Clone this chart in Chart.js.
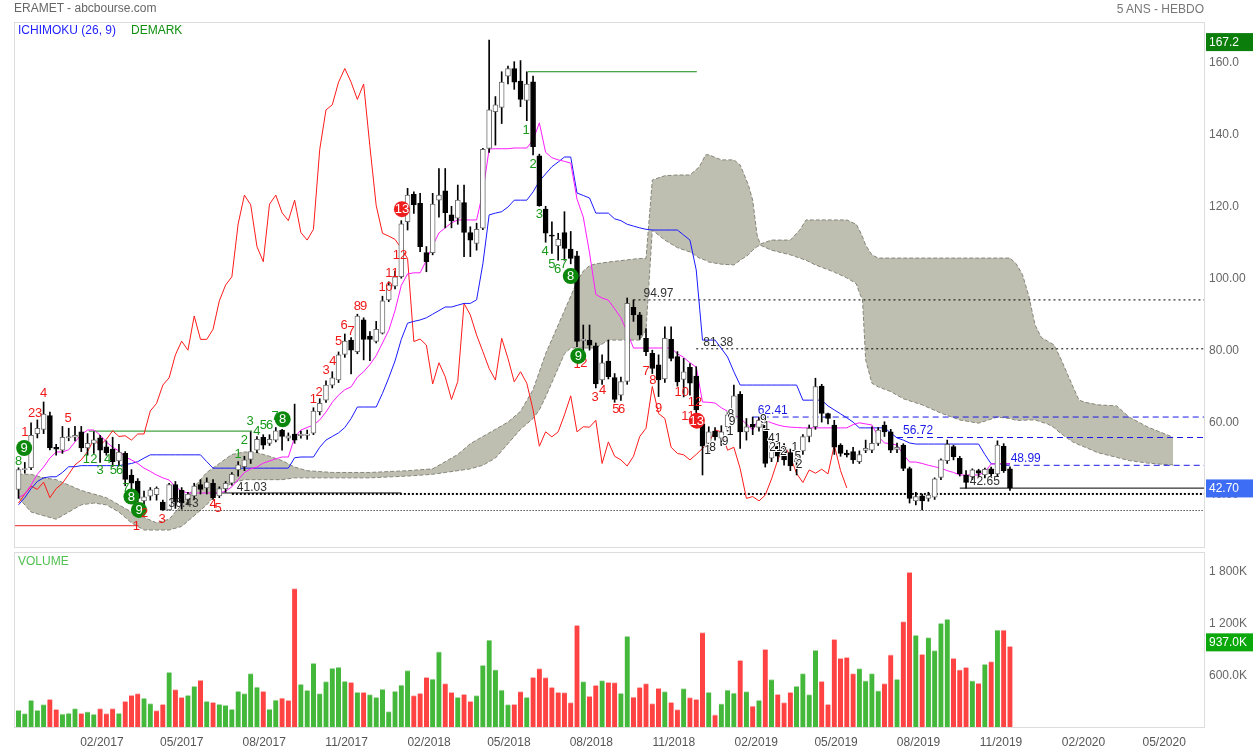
<!DOCTYPE html>
<html>
<head>
<meta charset="utf-8">
<title>ERAMET - abcbourse.com</title>
<script src="https://cdn.jsdelivr.net/npm/chart.js@4.4.1/dist/chart.umd.min.js"></script>
<style>
  body { margin: 0; background: #fff; }
  #page { position: relative; width: 1253px; height: 751px; overflow: hidden; font-family: "Liberation Sans", Arial, sans-serif; }
  #page canvas { position: absolute; left: 0; }
  .lbl { position: absolute; font-size: 12px; line-height: 14px; white-space: nowrap; }
</style>
</head>
<body>
<div id="page">
  <canvas id="priceChart" width="1253" height="550" style="top:0;width:1253px;height:550px"></canvas>
  <canvas id="volChart" width="1253" height="201" style="top:550px;width:1253px;height:201px"></canvas>
  <div class="lbl" style="left:14px;top:1px;color:#666">ERAMET - abcbourse.com</div>
  <div class="lbl" style="right:49px;top:2px;color:#777">5 ANS - HEBDO</div>
  <div class="lbl" style="left:18px;top:23px;color:#1f1fff">ICHIMOKU (26, 9)</div>
  <div class="lbl" style="left:131px;top:23px;color:#109010">DEMARK</div>
  <div class="lbl" style="left:18px;top:554px;color:#50c050">VOLUME</div>
</div>
<script>
// weekly candles, week 0 = 31/10/2016
const opens = [42.3,47.8,48.3,57.8,59.0,62.8,54.0,53.2,56.6,56.8, 58.3,53.8,55.1,56.6,54.1,53.5,50.2,52.3,46.3,44.6,
  39.1,40.4,40.8,38.8,36.6,43.6,42.0,39.5,40.5,43.6, 42.7,44.0,40.5,42.5,44.0,47.7,48.6,50.6,53.2,56.8,
  55.1,56.0,58.8,56.5,57.7,57.2,57.3,57.9,63.9,67.1, 71.3,72.7,79.8,83.8,80.6,89.4,84.9,83.4,85.7,95.0,
  98.8,101.4,116.7,124.3,121.8,108.1,108.1,122.7,125.3,118.6, 117.7,122.0,113.7,110.7,114.9,137.1,147.3,148.5,157.2,159.3,
  155.8,150.4,155.6,135.0,120.2,113.0,110.0,113.7,109.1,107.2, 83.6,83.8,82.2,72.7,78.0,73.4,68.5,72.3,92.9,90.8,
  84.3,80.1,76.9,73.0,84.0,79.2,72.9,76.2,73.8,60.5, 55.1,58.5,56.5,59.7,62.0,68.7,58.3,60.4,59.5,60.5,
  51.0,55.0,54.0,52.5,50.0,53.0,57.0,59.7,71.0,63.4, 60.2,54.6,52.4,52.8,50.0,53.1,53.2,55.1,60.2,58.3,
  53.4,54.6,48.1,39.1,40.5,39.8,40.1,45.6,50.3,54.2, 50.9,46.3,45.8,47.5,46.3,48.0,46.6,54.3,48.0];
const highs = [48.3,49.8,60.8,61.6,66.6,63.8,54.8,59.8,59.3,59.8, 59.8,57.8,58.3,57.3,55.8,56.8,54.8,52.8,47.8,45.3,
  41.8,42.8,43.0,39.3,44.0,44.5,42.8,41.5,44.0,45.0, 45.5,45.0,43.0,44.5,47.0,50.0,51.5,58.3,57.0,57.5,
  57.5,59.5,59.0,58.0,66.0,58.5,58.8,65.0,67.5,72.5, 75.0,80.5,85.5,84.5,91.0,90.0,86.2,89.0,96.0,100.0,
  103.0,117.0,126.0,125.0,124.6,109.8,124.6,131.5,131.5,121.0, 126.9,126.9,115.3,116.3,137.1,167.2,151.5,158.4,160.0,161.2,
  161.5,158.4,157.2,135.5,121.0,116.7,113.5,119.5,114.0,108.5, 88.0,88.0,83.0,79.7,83.8,74.5,73.5,95.5,94.97,91.5,
  87.0,81.0,79.7,87.5,87.5,80.6,78.7,77.3,76.4,61.5, 59.7,59.5,60.0,64.0,71.3,69.5,62.0,62.4,62.41,61.5,
  57.0,56.0,55.0,53.5,53.0,57.5,60.2,73.2,71.5,63.5, 61.5,55.0,53.2,54.0,53.0,56.0,59.7,59.5,61.1,59.0,
  55.2,55.0,48.5,41.5,41.0,41.5,45.5,50.8,56.0,54.6, 51.5,47.5,48.0,47.9,48.2,48.5,55.8,55.0,48.6];
const lows = [39.8,46.8,47.8,56.6,57.8,53.3,51.8,52.3,55.8,55.8, 52.8,51.8,52.3,49.8,51.8,48.7,48.8,43.3,42.3,38.8,
  37.3,39.3,39.3,36.43,36.6,37.0,36.8,38.0,39.5,41.0, 41.0,39.5,40.0,41.5,43.5,46.0,47.5,49.5,52.5,53.5,
  54.5,55.5,53.2,55.8,55.1,56.5,56.2,57.5,63.0,66.5, 70.5,72.0,79.0,74.4,80.0,78.3,78.1,83.0,85.5,94.5,
  98.0,101.0,114.4,119.0,108.4,102.8,107.5,118.0,115.0,115.0, 116.0,107.0,107.0,108.8,114.5,136.0,138.0,144.0,155.0,153.5,
  148.7,144.8,135.3,121.0,111.0,107.9,106.0,106.0,105.0,82.0, 80.6,81.0,70.5,71.5,73.0,66.5,67.0,71.5,89.0,84.0,
  79.5,74.5,68.1,72.0,78.0,71.0,68.0,68.5,63.0,46.3, 52.8,56.0,54.5,58.5,61.5,53.7,56.0,57.5,58.5,48.5,
  50.0,50.0,49.0,47.5,46.3,52.0,55.5,59.0,61.0,60.5, 52.0,51.5,51.3,49.5,49.5,52.5,52.5,54.5,57.0,52.5,
  52.5,47.5,38.5,38.0,36.6,39.0,39.5,45.0,49.5,50.5, 46.0,42.65,45.0,45.8,45.5,46.0,46.0,47.0,42.0];
const closes = [47.8,48.1,57.3,59.3,63.2,53.8,53.5,56.8,57.0,57.3, 53.8,55.1,56.1,53.2,52.5,50.0,52.7,45.1,44.0,39.8,
  40.2,42.2,42.6,36.5,43.6,38.8,38.5,41.0,43.2,42.3, 44.3,40.0,42.5,44.0,46.5,49.1,50.5,52.8,56.2,54.6,
  56.2,58.6,57.0,57.2,56.0,57.7,57.7,64.1,66.2,71.3, 73.3,79.7,83.5,81.0,90.5,84.0,84.0,86.8,94.7,99.1,
  101.4,116.1,124.1,121.4,109.8,105.6,121.6,124.1,119.2,117.0, 122.7,113.7,111.6,114.6,136.8,147.8,149.2,155.5,159.3,155.5,
  150.7,155.0,137.6,121.2,113.5,112.7,111.8,109.3,106.5,83.4, 84.1,82.4,71.6,77.5,73.6,67.3,72.3,94.0,90.8,85.2,
  80.6,75.9,72.7,84.3,78.7,72.2,75.0,71.8,64.4,54.3, 58.3,56.9,58.3,63.0,68.3,58.3,59.7,59.6,61.5,49.5,
  55.5,51.5,50.5,48.8,51.5,57.0,59.3,70.9,63.4,62.0, 54.0,52.3,51.9,50.5,52.0,53.7,55.1,58.8,58.3,53.2,
  54.0,48.1,39.8,40.3,39.1,40.7,45.2,50.5,54.8,51.4, 46.7,44.2,47.7,46.8,47.9,46.6,54.6,47.5,42.7];
// volume in thousands, and colour flag (1 = green)
const volumes = [194,155,310,194,260,322,206,151,159,213, 159,175,148,213,155,213,159,299,368,388,
  333,271,190,264,635,434,345,368,473,543, 299,287,264,252,206,415,388,620,465,415,
  206,314,337,310,1608,496,426,740,388,527, 682,694,531,519,403,403,376,345,438,178,
  415,488,655,364,392,577,558,872,504,403, 345,380,299,364,717,1011,663,430,260,264,
  411,345,577,678,574,461,403,399,283,1182, 527,357,484,539,519,515,392,1054,349,461,
  504,271,450,411,287,202,446,341,322,1096, 403,140,268,430,395,775,411,244,310,903,
  550,380,283,403,473,620,376,891,531,264, 1019,798,810,620,678,535,620,419,504,837,
  554,1224,1797,1065,845,1038,887,1205,1251,798, 663,694,535,508,728,759,1127,1127,937];
const volUp = [1,1,1,1,1,0,0,1,1,1, 0,1,1,0,0,0,1,0,0,0, 1,1,0,0,1,0,0,1,1,0, 1,0,1,1,1,1,1,1,1,0,
  1,1,0,0,0,1,1,1,1,1, 1,1,1,0,1,0,1,1,1,1, 1,1,1,0,0,0,1,1,0,0, 1,0,0,1,1,1,1,1,1,0,
  0,1,0,0,0,0,0,0,0,0, 1,0,0,1,0,0,1,1,0,0, 0,0,0,1,0,0,1,0,0,0, 1,0,1,1,1,0,1,0,1,0,
  1,0,0,0,1,1,1,1,0,0, 0,0,0,0,1,1,1,1,0,0, 1,0,0,1,0,1,1,1,1,0, 0,0,1,0,1,0,1,0,0];

// Ichimoku lines
const tenkan = [40,41,43.5,46.5,48.5,51,52.7,52.7,53.3,55.5, 57.5,58.8,58.8,57.4,55.5,54,53,51.3,50.5,49.5,
  48.2,47.3,46.3,45.5,44.9,43,41.8,41.3,41.3,41.3, 41.3,41.3,41.3,41.8,43,45,47,48,48.5,49.6,
  50.2,50.8,51.3,51.3,56.8,58.8,59.5,60.2,61.6,63.8, 66.5,68.5,70,70.8,73.5,75,77,79.5,83,86.5,
  92,99,102.2,102.5,102.5,106,110,113.6,115,116.4, 117.2,117.2,117.2,117.2,125,136.9,137,137,137,137.2,
  137.2,137.2,139.4,144.2,136,134.5,133.9,133.5,133,123, 118,108,96.5,95.5,94.9,92.5,90,86,81.6,81.6,
  81.6,81.6,81.6,81.6,81.6,80,79,77.5,76.3,66.6, 66.5,66.3,65,64,63,62.1,60.5,58.8,62.1,61.5,
  60.8,60.2,59.8,59.6,59.5,59.4,59.4,59.4,59.4,59.4, 59.4,59.4,59.4,60.3,60.8,60.5,60.2,57,55.2,55,
  54.6,52,49.9,49.9,49.5,49,48.6,48.2,47.5,47, 46.3,46.3,46.3,46.3,47.1,49.4,49.4,49.4,49.4];
const kijun = [38,40,42.5,44.5,45.5,45.8,45.8,47,48.6,48.6, 48.9,48.9,48.9,48.9,48.9,48.9,48.9,49.2,49.5,50,
  51,51.9,51.9,51.9,51.9,51.9,51.9,51.9,51.9,51.9, 50,48.2,48.2,48.2,48.2,48.2,48.2,48.2,48.2,48.2,
  48.2,48.2,48.2,48.2,51.1,51.3,51.3,51.3,54,56, 57,58,59.5,62,65.2,65.2,65.2,65.2,69,73.3,
  78,84,88.5,89,89.4,90,91,92,93,93, 93.5,94,94,95,105,118.6,119.1,119.5,120.8,122.7,
  122.7,122.7,125,128,130,132,133.3,134.7,134.7,124.7, 124,123.3,119.1,119.1,119.1,117.5,117,116,115.5,115,
  114.6,114.4,114.4,114.4,114.4,114.4,113,111.6,103.3,83.8, 83.8,83.8,81.5,79.1,75,71.3,71.3,71.3,71.3,71.3,
  71.3,71.3,71.3,71.3,71.3,67.1,67.1,67.1,67.1,65.5, 64.4,63.3,62.2,61,59.4,59.4,59.4,59.4,59.4,58,
  56.6,56,55.2,54.9,54.9,54.9,54.9,54.9,54.9,54.9, 54.9,54.9,54.9,54.9,52,49.4,49.4,49.4,49.4];
// cloud edges (projected 26 weeks ahead)
const cloudWeek = [0,2,4,6,8,10,12,14,16,18,20,22,24,26,28,30,32,34,36,38,40,42,44,46,50,56,62,66,68,70,72,74,76,78,80,82,83,84,85,86,87,88,89,90,91,92,94,99,100,
  101,103,105,107,108.5,109.5,110,112,114,115,116.3,117,117.7,118.2,120,123,124.5,125.5,127,130,132,133.5,134,134.5,135,136,137,139,141,144,147,150,153,156,158,
  159,160,161,162,163,164,165,166,167,168,169,170,172,175,177,180,182,184];
const cloudTop = [46.5,46.5,45.5,45,43.5,42,41,40,38,36,34.5,33,34,38,43,47,49.5,52,52.7,52.5,51.5,50.3,48.5,47.5,47,47,47.5,48,50,52,55,57,59,61,64,70,75,80,84,88,92,96,100,103,104.5,105,105.5,106.5,106.5,
  128.3,129.5,129.7,129.7,132,135.3,135.3,133.9,133.9,132.5,127,122.7,113,110.5,111.6,111.6,114.4,117.2,117.2,117.2,117.2,116,114.4,112.5,110.2,107.5,106.6,106.6,106.6,106.6,106.6,106.6,106.6,106.6,106.6,
  105,102,96,88,84.5,83.5,82.5,79,75,71,67.1,66.5,65.8,65.5,62.4,59.6,58.2,56.8];
const cloudBottom = [40,36,35,34,36,38,38.5,38,36,33,31,31,31,32,35,38,42,44,45,45,45,45,45.5,45.5,45.5,45.5,46,46.5,47,47.5,48,49,51,55,59,62,64.4,68,72,76,80,81.6,81.6,81.6,81.6,81.6,83.8,83.8,86.6,
  114.4,111.6,109.5,108.3,106.6,106,105.5,104.9,104.7,106,107.5,108.8,109.8,110.2,108.8,107.5,106.6,106,104.7,102.7,101.1,99.5,97,95,78.3,71.8,70.8,69.5,67.5,65.8,63.5,61.6,60.7,62.4,62,
  61.5,61.5,61.6,61.6,61,60.5,59.5,58,56.7,55.5,54.7,54,52.5,51.2,50.3,49.6,49.3,49.1];

// horizontal levels
const levelValues = [158.4, 58.5, 32.2, 41.3, 94.97, 81.38, 62.41, 56.72, 48.99, 42.65, 41.03, 36.43];
const levelFrom = [81.2, 11.2, -0.7, 31, 98, 108, 117, 140, 157, 150, 34, 23.6];
const levelTo = [108.1, 37.2, 19.1, 61, null, null, null, null, null, null, null, null];

// DeMark counts: [week, price, text, kind]
const demarkLabels = [
  [0,50.2,'8','G'],[0.9,53.8,'9','GC'],[1,58.2,'1','R'],[2.1,63.3,'2','R'],[3.2,63.3,'3','R'],[4,69.1,'4','R'],[7.9,61.9,'5','R'],
  [10.8,50.5,'1','G'],[12,50.5,'2','G'],[13,47.5,'3','G'],[14.2,50.5,'4','G'],[15.1,47.5,'5','G'],[16.1,47.5,'6','G'],[17.1,42.7,'7','G'],
  [18,40.3,'8','GC'],[19.2,36.6,'9','GC'],[20.1,35.5,'2','R'],[18.8,32.1,'1','R'],[22.9,34,'3','R'],[31,38,'4','R'],[31.8,37,'5','R'],
  [35,51.9,'1','G'],[36,56,'2','G'],[36.9,61.1,'3','G'],[38,58.5,'4','G'],[39,60.2,'5','G'],[40,60.2,'6','G'],[40.9,62.5,'7','G'],[42.1,61.8,'8','GC'],
  [47,67.3,'1','R'],[47.9,69.3,'2','R'],[49,75.3,'3','R'],[50.1,78,'4','R'],[51,83.4,'5','R'],[51.9,88,'6','R'],[53,86.1,'7','R'],
  [54,93.1,'8','R'],[55,93.1,'9','R'],[58.5,98.5,'10','R'],[59.5,102.4,'11','R'],[60.8,107.2,'12','R'],[61.1,120.2,'13','RC'],
  [80.9,142.2,'1','G'],[82,132.5,'2','G'],[83,118.6,'3','G'],[83.9,108.4,'4','G'],[85,104.7,'5','G'],[85.9,103.5,'6','G'],[86.9,104.7,'7','G'],[88,101.6,'8','GC'],
  [89,76.9,'1','R'],[90.1,77.3,'2','R'],[89.2,79.4,'9','GC'],[91.9,67.8,'3','R'],[93.1,69.7,'4','R'],[95.2,64.4,'5','R'],[96.1,64.4,'6','R'],
  [100,75,'7','R'],[101.1,72.7,'8','R'],[102,64.8,'9','R'],[105.7,69.2,'10','R'],[106.7,62.5,'11','R'],[107.8,66.5,'12','R'],[108.1,61.4,'13','RC'],
  [109.8,53,'1','K'],[110.6,54,'8','K'],[112.6,55.6,'9','K'],[113.5,63,'8','K'],[113.7,61.1,'9','K'],[113.4,58.3,'1','K'],
  [118.7,61.8,'9','K'],[119.2,59.7,'1','K'],[120.5,56.5,'41','K'],[120.7,54,'21','K'],[121.9,52.8,'2','K'],[123.7,54,'1','K'],[124.2,51.4,'5','K'],[124.4,49.1,'2','K']
];

// axes
const priceTicks = [40, 60, 80, 100, 120, 140, 160];
const priceTickLabels = ['40.00', '60.00', '80.00', '100.00', '120.0', '140.0', '160.0'];
const volTicks = [600, 1200, 1800];
const volTickLabels = ['600.0K', '1 200K', '1 800K'];
const dateLabels = ['02/2017','05/2017','08/2017','11/2017','02/2018','05/2018','08/2018','11/2018','02/2019','05/2019','08/2019','11/2019','02/2020','05/2020'];

const FONT = '"Liberation Sans", Arial, sans-serif';
Chart.defaults.font.family = FONT;
Chart.defaults.font.size = 12;
Chart.defaults.animation = false;

const X_MIN = -0.72, X_MAX = 188.92;
const PRICE_MIN = 26.28, PRICE_MAX = 172.23;
const VOL_MAX = 2033;
const startDay = Date.UTC(2016, 9, 31);
const dateTickPos = dateLabels.map(s => {
  const [m, y] = s.split('/').map(Number);
  return (Date.UTC(y, m - 1, 1) - startDay) / (7 * 864e5);
});
const weeks = closes.map((_, i) => i);

const levelStyle = [
  { color: '#138a13', width: 1, dash: [] },
  { color: '#138a13', width: 1, dash: [] },
  { color: '#ee2222', width: 1, dash: [] },
  { color: '#111', width: 1, dash: [] },
  { color: '#000', width: 1, dash: [2, 3], text: '#333', dx: 10 },
  { color: '#000', width: 1, dash: [2, 3], text: '#333', dx: 7 },
  { color: '#1a1ae6', width: 1, dash: [6, 4], text: '#1a1ae6', dx: 5 },
  { color: '#1a1ae6', width: 1, dash: [6, 4], text: '#1a1ae6', dx: 6 },
  { color: '#1a1ae6', width: 1, dash: [6, 4], text: '#1a1ae6', dx: 7 },
  { color: '#000', width: 1, dash: [], text: '#333', dx: 10 },
  { color: '#000', width: 2, dash: [2, 2], text: '#333', dx: 5 },
  { color: '#000', width: 1, dash: [1, 2], text: '#333', dx: 2 }
];

// keep the chart area exactly where the layout padding puts it
const noScalePadding = s => { s.paddingTop = 0; s.paddingBottom = 0; s.paddingLeft = 0; s.paddingRight = 0; };

const panelBorder = {
  id: 'panelBorder',
  afterDraw(chart) {
    const { ctx, chartArea: a } = chart;
    ctx.save();
    ctx.strokeStyle = '#dcdcdc';
    ctx.lineWidth = 1;
    ctx.strokeRect(a.left + 0.5, a.top + 0.5, a.right - a.left, a.bottom - a.top);
    ctx.restore();
  }
};

function valueBox(ctx, y, text, color) {
  ctx.fillStyle = color;
  ctx.fillRect(1206, y - 9, 47, 18);
  ctx.fillStyle = '#fff';
  ctx.font = '12px ' + FONT;
  ctx.textAlign = 'left';
  ctx.textBaseline = 'middle';
  ctx.fillText(text, 1209, y + 0.5);
}

const priceOverlay = {
  id: 'priceOverlay',
  afterDatasetsDraw(chart) {
    const { ctx, scales: { x, y } } = chart;
    ctx.save();
    // level labels
    ctx.font = '12px ' + FONT;
    ctx.textAlign = 'left';
    ctx.textBaseline = 'middle';
    levelValues.forEach((v, k) => {
      const st = levelStyle[k];
      if (!st.text) return;
      ctx.fillStyle = st.text;
      ctx.fillText(v.toFixed(2), x.getPixelForValue(levelFrom[k]) + st.dx, y.getPixelForValue(v) - 6.5);
    });
    // DeMark counts
    ctx.textAlign = 'center';
    demarkLabels.forEach(([w, p, txt, kind]) => {
      const px = x.getPixelForValue(w), py = y.getPixelForValue(p);
      if (kind === 'GC' || kind === 'RC') {
        ctx.fillStyle = kind === 'GC' ? '#0b870b' : '#ee1c1c';
        ctx.beginPath();
        ctx.arc(px, py, 8, 0, Math.PI * 2);
        ctx.fill();
        ctx.fillStyle = '#fff';
        ctx.font = '13px ' + FONT;
        ctx.fillText(txt, px, py + 0.5);
      } else if (kind === 'K') {
        ctx.font = '12px ' + FONT;
        ctx.lineWidth = 2;
        ctx.strokeStyle = '#fff';
        ctx.strokeText(txt, px, py);
        ctx.fillStyle = '#222';
        ctx.fillText(txt, px, py);
      } else {
        ctx.font = '13px ' + FONT;
        ctx.fillStyle = kind === 'G' ? '#1a9a1a' : '#f01818';
        ctx.fillText(txt, px, py);
      }
    });
    ctx.restore();
  },
  afterDraw(chart) {
    const { ctx, scales: { y } } = chart;
    ctx.save();
    valueBox(ctx, y.getPixelForValue(Math.max(...highs)) + 2, Math.max(...highs).toFixed(1), '#0a7d0a');
    valueBox(ctx, y.getPixelForValue(closes[closes.length - 1]) + 0.5, closes[closes.length - 1].toFixed(2), '#3d6cf5');
    ctx.restore();
  }
};

const line = (data, color, extra) => Object.assign({
  type: 'line', data, borderColor: color, borderWidth: 1, pointRadius: 0, tension: 0, order: 3
}, extra || {});

const datasets = [
  {
    type: 'bar',
    data: weeks.map(i => ({ x: i, y: [Math.min(opens[i], closes[i]), Math.max(opens[i], closes[i])] })),
    backgroundColor: weeks.map(i => closes[i] >= opens[i] ? '#ffffff' : '#000000'),
    borderColor: weeks.map(i => closes[i] >= opens[i] ? '#6e6e6e' : '#000000'),
    borderWidth: 1, borderSkipped: false, barThickness: 5, grouped: false, order: 0
  },
  {
    type: 'bar',
    data: weeks.map(i => ({ x: i, y: [lows[i], highs[i]] })),
    backgroundColor: '#000', borderWidth: 0, barThickness: 1, grouped: false, order: 1
  },
  line(weeks.map(i => ({ x: i, y: tenkan[i] })), '#ff1aff'),
  line(weeks.map(i => ({ x: i, y: kijun[i] })), '#1a1aff'),
  line(closes.slice(26).map((c, i) => ({ x: i, y: c })), '#ff1a1a'),
  line(cloudWeek.map((w, k) => ({ x: w, y: cloudTop[k] })), '#85857a', { borderDash: [4, 2], order: 9 }),
  line(cloudWeek.map((w, k) => ({ x: w, y: cloudBottom[k] })), '#85857a', {
    borderDash: [4, 2], order: 9,
    fill: { target: '-1', above: '#bfbfb1', below: '#bfbfb1' }
  })
];
levelValues.forEach((v, k) => {
  const st = levelStyle[k];
  datasets.push(line([{ x: levelFrom[k], y: v }, { x: levelTo[k] ?? X_MAX, y: v }], st.color,
    { borderWidth: st.width, borderDash: st.dash, order: 4 }));
});

new Chart(document.getElementById('priceChart'), {
  type: 'bar',
  data: { datasets },
  options: {
    responsive: false,
    devicePixelRatio: 1,
    layout: { padding: { left: 14, right: 0, top: 22, bottom: 3 } },
    plugins: { legend: { display: false }, tooltip: { enabled: false } },
    scales: {
      x: { type: 'linear', min: X_MIN, max: X_MAX, offset: false, display: false },
      y: {
        position: 'right', min: PRICE_MIN, max: PRICE_MAX,
        grid: { display: false, drawTicks: false }, border: { display: false },
        afterBuildTicks: s => { s.ticks = priceTicks.map(v => ({ value: v })); },
        afterFit: s => { s.width = 49; noScalePadding(s); },
        ticks: { padding: 5, labelOffset: -3, color: '#666', autoSkip: false, callback: (v, i) => priceTickLabels[i] }
      }
    }
  },
  plugins: [panelBorder, priceOverlay]
});

const volOverlay = {
  id: 'volOverlay',
  afterDraw(chart) {
    const { ctx, scales: { y } } = chart;
    const last = volumes[volumes.length - 1];
    ctx.save();
    valueBox(ctx, y.getPixelForValue(last) - 4, last.toFixed(1) + 'K', '#0aa80a');
    ctx.restore();
  }
};

new Chart(document.getElementById('volChart'), {
  type: 'bar',
  data: {
    datasets: [{
      data: weeks.map(i => ({ x: i, y: volumes[i] })),
      backgroundColor: volUp.map(u => u ? '#43b83b' : '#ff4242'),
      borderColor: volUp.map(u => u ? '#a8dca4' : '#ffb0b0'),
      borderWidth: { top: 1, right: 0, bottom: 0, left: 0 },
      borderSkipped: false, barThickness: 5
    }]
  },
  options: {
    responsive: false,
    devicePixelRatio: 1,
    layout: { padding: { left: 14, right: 0, top: 2, bottom: 0 } },
    plugins: { legend: { display: false }, tooltip: { enabled: false } },
    scales: {
      x: {
        type: 'linear', min: X_MIN, max: X_MAX, offset: false,
        grid: { display: false, drawTicks: false }, border: { display: false },
        afterBuildTicks: s => { s.ticks = dateTickPos.map(v => ({ value: v })); },
        afterFit: s => { s.height = 24; noScalePadding(s); },
        ticks: { autoSkip: false, maxRotation: 0, padding: 8, color: '#555', callback: (v, i) => dateLabels[i] }
      },
      y: {
        position: 'right', min: 0, max: VOL_MAX,
        grid: { display: false, drawTicks: false }, border: { display: false },
        afterBuildTicks: s => { s.ticks = volTicks.map(v => ({ value: v })); },
        afterFit: s => { s.width = 49; noScalePadding(s); },
        ticks: { padding: 5, color: '#666', autoSkip: false, callback: (v, i) => volTickLabels[i] }
      }
    }
  },
  plugins: [panelBorder, volOverlay]
});
</script>
</body>
</html>
